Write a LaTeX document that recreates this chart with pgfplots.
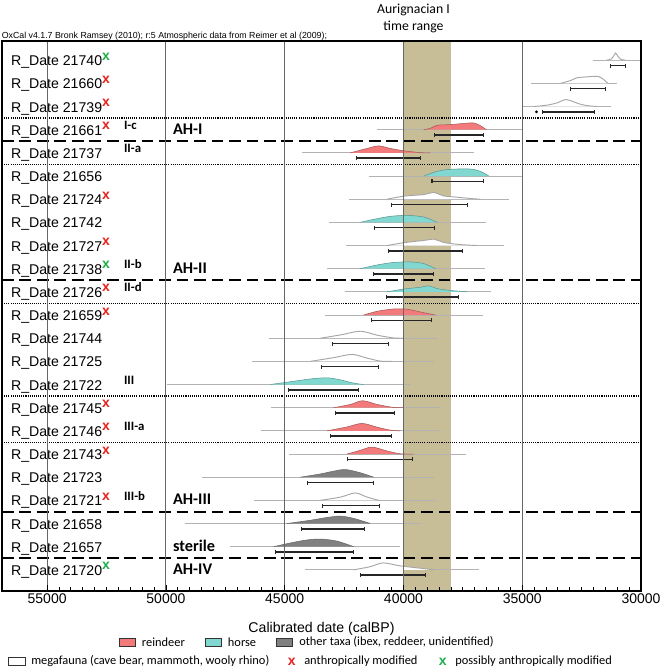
\documentclass[border=0pt]{standalone}
\usepackage{pgfplots}
\pgfplotsset{compat=1.18}
\usepackage{fontspec}
\setmainfont{Liberation Sans}
\newfontfamily\calfont{Carlito}
\usetikzlibrary{arrows.meta}
\definecolor{rein}{RGB}{242,122,122}
\definecolor{horse}{RGB}{128,216,208}
\definecolor{oth}{RGB}{128,128,128}
\definecolor{band}{RGB}{199,190,152}
\definecolor{xred}{RGB}{230,35,30}
\definecolor{xgreen}{RGB}{30,175,75}
\newcommand{\rx}{\raisebox{4.1pt}{\textcolor{xred}{\fontsize{10.5}{10}\selectfont\bfseries x}}}
\newcommand{\gx}{\raisebox{4.1pt}{\textcolor{xgreen}{\fontsize{10.5}{10}\selectfont\bfseries x}}}
\pgfplotsset{
  base/.style={black!30, line width=0.7pt, forget plot},
  rng/.style={black!85, line width=1.15pt, {Bar[width=3pt,line width=0.8pt]}-{Bar[width=3pt,line width=0.8pt]}, forget plot},
  reind/.style={fill=rein, draw=rein!70!black, line width=0.4pt, smooth, tension=0.5, forget plot},
  hors/.style={fill=horse, draw=horse!70!black, line width=0.4pt, smooth, tension=0.5, forget plot},
  othr/.style={fill=oth, draw=oth!80!black, line width=0.4pt, smooth, tension=0.5, forget plot},
  mega/.style={fill=white, draw=black!35, line width=0.7pt, smooth, tension=0.5, forget plot},
  dotsep/.style={black, line width=1.1pt, dash pattern=on 0.8pt off 0.8pt, forget plot},
  dashsep/.style={black, line width=1.5pt, dash pattern=on 8.8pt off 4.3pt, forget plot},
}
\begin{document}
\begin{tikzpicture}
\begin{axis}[
  at={(0,0)}, anchor=south west,
  scale only axis, width=479.25pt, height=412.3pt,
  x dir=reverse, xmin=30000, xmax=56900,
  ymin=0.1, ymax=23.83,
  xtick={30000,35000,40000,45000,50000,55000},
  minor x tick num=9,
  scaled x ticks=false,
  ytick=\empty,
  xtick pos=bottom, tick align=inside,
  major tick length=4pt, minor tick length=3pt,
  tick style={black, line width=0.6pt},
  xmajorgrids, major grid style={black!60, line width=0.75pt},
  axis line style={line width=1.4pt},
  axis on top,
  /pgf/number format/1000 sep={},
  /pgf/number format/assume math mode=true,
  xticklabel style={font=\fontsize{10.5}{12}\selectfont, yshift=1.5pt},
  clip=true,
]
% Aurignacian band
\addplot[fill=band, draw=none, forget plot] coordinates {(40000,0.1) (38000,0.1) (38000,23.83) (40000,23.83)} -- cycle;

% row 1 (21740)
\addplot[base] coordinates {(32010,23) (30000,23)};
\addplot[mega] coordinates {(31450,23) (31250,23.05) (31150,23.18) (31070,23.31) (30980,23.18) (30850,23.04) (30650,23)};
\addplot[rng] coordinates {(31325,22.77) (30640,22.77)};
% row 2 (21660)
\addplot[base] coordinates {(34650,22) (31030,22)};
\addplot[mega] coordinates {(33390,22) (32970,22.12) (32700,22.24) (32410,22.27) (31985,22.30) (31775,22.29) (31565,22.16) (31395,22)};
\addplot[rng] coordinates {(33010,21.77) (31465,21.77)};
% row 3 (21739)
\addplot[base] coordinates {(34960,21) (31255,21)};
\addplot[mega] coordinates {(34510,21) (33950,21.06) (33530,21.16) (33180,21.30) (32900,21.23) (32620,21.12) (32270,21.04) (31845,21)};
\addplot[rng] coordinates {(34160,20.77) (31945,20.77)};
\addplot[only marks, mark=*, mark size=0.8pt, black, forget plot] coordinates {(34400,20.77)};
% row 4 (21661)
\addplot[base] coordinates {(41110,20) (35000,20)};
\addplot[reind] coordinates {(39145,20) (38865,20.06) (38584,20.19) (38022,20.22) (37460,20.27) (37039,20.29) (36759,20.17) (36506,20)};
\addplot[rng] coordinates {(38696,19.77) (36618,19.77)};
% row 5 (21737)
\addplot[base] coordinates {(44270,19) (37040,19)};
\addplot[reind] coordinates {(42234,19) (41532,19.19) (41041,19.30) (40550,19.19) (39988,19.09) (39286,19.01) (38865,19)};
\addplot[rng] coordinates {(41995,18.77) (39272,18.77)};
% row 6 (21656)
\addplot[base] coordinates {(41462,18) (35003,18)};
\addplot[hors] coordinates {(39145,18) (38584,18.20) (38022,18.29) (37180,18.30) (36759,18.20) (36408,18)};
\addplot[rng] coordinates {(38822,17.77) (36604,17.77)};
% row 7 (21724)
\addplot[base] coordinates {(42304,17) (35565,17)};
\addplot[mega] coordinates {(40690,17) (39988,17.13) (39145,17.20) (38724,17.29) (38303,17.14) (37882,17.10) (37180,17.03) (36759,17)};
\addplot[rng] coordinates {(40507,16.77) (37292,16.77)};
% row 8 (21742)
\addplot[base] coordinates {(43147,16) (36534,16)};
\addplot[hors] coordinates {(41813,16) (41251,16.13) (40550,16.26) (39847,16.30) (39145,16.23) (38584,16)};
\addplot[rng] coordinates {(41223,15.77) (38654,15.77)};
% row 9 (21727)
\addplot[base] coordinates {(42403,15) (35748,15)};
\addplot[mega] coordinates {(40690,15) (39988,15.12) (39145,15.22) (38696,15.27) (38303,15.13) (37601,15.04) (36899,15)};
\addplot[rng] coordinates {(40662,14.77) (37489,14.77)};
% row 10 (21738)
\addplot[base] coordinates {(43217,14) (36548,14)};
\addplot[hors] coordinates {(41813,14) (41111,14.16) (40409,14.27) (39707,14.29) (39145,14.22) (38654,14)};
\addplot[rng] coordinates {(41293,13.77) (38710,13.77)};
% row 11 (21726)
\addplot[base] coordinates {(42473,13) (36295,13)};
\addplot[hors] coordinates {(40690,13) (39988,13.12) (39286,13.20) (38935,13.26) (38584,13.14) (38022,13.06) (37320,13)};
\addplot[rng] coordinates {(40746,12.77) (37671,12.77)};
% row 12 (21659)
\addplot[base] coordinates {(43315,12) (36646,12)};
\addplot[reind] coordinates {(41673,12) (41111,12.16) (40409,12.26) (39847,12.25) (39145,12.10) (38654,12)};
\addplot[rng] coordinates {(41378,11.77) (38808,11.77)};
% row 13 (21744)
\addplot[base] coordinates {(45674,11) (38542,11)};
\addplot[mega] coordinates {(43498,11) (42655,11.14) (41813,11.30) (41111,11.13) (40409,11.01) (39988,11)};
\addplot[rng] coordinates {(42992,10.77) (40592,10.77)};
% row 14 (21725)
\addplot[base] coordinates {(46362,10) (38696,10)};
\addplot[mega] coordinates {(43919,10) (42936,10.16) (42164,10.30) (41532,10.14) (40971,10.01) (40500,10)};
\addplot[rng] coordinates {(43484,9.77) (41041,9.77)};
% row 15 (21722)
\addplot[base] coordinates {(49956,9) (39707,9)};
\addplot[hors] coordinates {(45604,9) (44621,9.14) (43919,9.24) (43217,9.29) (42655,9.20) (42094,9.06) (41673,9)};
\addplot[rng] coordinates {(44874,8.77) (41883,8.77)};
% row 16 (21745)
\addplot[base] coordinates {(45562,8) (38444,8)};
\addplot[reind] coordinates {(42936,8) (42234,8.14) (41715,8.30) (41111,8.14) (40409,8.01) (39988,8)};
\addplot[rng] coordinates {(42866,7.77) (40367,7.77)};
% row 17 (21746)
\addplot[base] coordinates {(45983,7) (38472,7)};
\addplot[reind] coordinates {(43217,7) (42374,7.17) (41743,7.32) (41111,7.16) (40550,7.03) (40128,7)};
\addplot[rng] coordinates {(43091,6.77) (40479,6.77)};
% row 18 (21743)
\addplot[base] coordinates {(44803,6) (37376,6)};
\addplot[reind] coordinates {(42374,6) (41813,6.16) (41321,6.30) (40690,6.13) (40128,6.01) (39567,6)};
\addplot[rng] coordinates {(42360,5.77) (39609,5.77)};
% row 19 (21723)
\addplot[base] coordinates {(48468,5) (38724,5)};
\addplot[othr] coordinates {(44340,5) (43498,5.14) (42936,5.26) (42445,5.33) (41813,5.19) (41251,5)};
\addplot[rng] coordinates {(44045,4.77) (41251,4.77)};
% row 20 (21721)
\addplot[base] coordinates {(46278,4) (38654,4)};
\addplot[mega] coordinates {(43498,4) (42655,4.14) (42024,4.32) (41532,4.14) (41041,4)};
\addplot[rng] coordinates {(43414,3.77) (40970,3.77)};
% row 21 (21658)
\addplot[base] coordinates {(49184,3) (39244,3)};
\addplot[othr] coordinates {(44902,3) (43919,3.14) (43217,3.26) (42655,3.32) (42094,3.22) (41391,3)};
\addplot[rng] coordinates {(44326,2.77) (41630,2.77)};
% row 22 (21657)
\addplot[base] coordinates {(47289,2) (40156,2)};
\addplot[othr] coordinates {(45463,2) (44621,2.19) (44059,2.29) (43498,2.33) (42796,2.24) (42094,2)};
\addplot[rng] coordinates {(45393,1.77) (42094,1.77)};
% row 23 (21720)
\addplot[base] coordinates {(44158,1) (36829,1)};
\addplot[mega] coordinates {(42094,1) (41391,1.14) (40858,1.30) (40128,1.17) (39286,1.07) (38724,1)};
\addplot[rng] coordinates {(41813,0.77) (39061,0.77)};

% separators
\addplot[dotsep] coordinates {(56900,20.5) (30000,20.5)};
\addplot[dashsep] coordinates {(56900,19.5) (30000,19.5)};
\addplot[dotsep] coordinates {(56900,18.5) (30000,18.5)};
\addplot[dashsep] coordinates {(56900,13.5) (30000,13.5)};
\addplot[dotsep] coordinates {(56900,12.5) (30000,12.5)};
\addplot[dotsep] coordinates {(56900,8.5) (30000,8.5)};
\addplot[dotsep] coordinates {(56900,6.5) (30000,6.5)};
\addplot[dashsep] coordinates {(56900,3.5) (30000,3.5)};
\addplot[dashsep] coordinates {(56900,1.5) (30000,1.5)};

% row labels
\begin{scope}[every node/.style={anchor=base west, inner sep=0pt, font=\fontsize{10.6}{12}\selectfont}]
\node at (axis cs:56530,22.76) {R\_Date 21740\gx};
\node at (axis cs:56530,21.76) {R\_Date 21660\rx};
\node at (axis cs:56530,20.76) {R\_Date 21739\rx};
\node at (axis cs:56530,19.76) {R\_Date 21661\rx};
\node at (axis cs:56530,18.76) {R\_Date 21737};
\node at (axis cs:56530,17.76) {R\_Date 21656};
\node at (axis cs:56530,16.76) {R\_Date 21724\rx};
\node at (axis cs:56530,15.76) {R\_Date 21742};
\node at (axis cs:56530,14.76) {R\_Date 21727\rx};
\node at (axis cs:56530,13.76) {R\_Date 21738\gx};
\node at (axis cs:56530,12.76) {R\_Date 21726\rx};
\node at (axis cs:56530,11.76) {R\_Date 21659\rx};
\node at (axis cs:56530,10.76) {R\_Date 21744};
\node at (axis cs:56530,9.76) {R\_Date 21725};
\node at (axis cs:56530,8.76) {R\_Date 21722};
\node at (axis cs:56530,7.76) {R\_Date 21745\rx};
\node at (axis cs:56530,6.76) {R\_Date 21746\rx};
\node at (axis cs:56530,5.76) {R\_Date 21743\rx};
\node at (axis cs:56530,4.76) {R\_Date 21723};
\node at (axis cs:56530,3.76) {R\_Date 21721\rx};
\node at (axis cs:56530,2.76) {R\_Date 21658};
\node at (axis cs:56530,1.76) {R\_Date 21657};
\node at (axis cs:56530,0.76) {R\_Date 21720\gx};
\end{scope}
\begin{scope}[every node/.style={anchor=base west, inner sep=0pt, font=\calfont\bfseries\fontsize{9.6}{11}\selectfont}]
\node at (axis cs:51772,20) {I-c};
\node at (axis cs:51772,19) {II-a};
\node at (axis cs:51772,14) {II-b};
\node at (axis cs:51772,13) {II-d};
\node at (axis cs:51772,9) {III};
\node at (axis cs:51772,7) {III-a};
\node at (axis cs:51772,4) {III-b};
\end{scope}
\begin{scope}[every node/.style={anchor=base west, inner sep=0pt, font=\calfont\bfseries\fontsize{12.2}{14}\selectfont}]
\node at (axis cs:49709,19.81) {AH-I};
\node at (axis cs:49709,13.81) {AH-II};
\node at (axis cs:49709,3.81) {AH-III};
\node at (axis cs:49709,1.81) {sterile};
\node at (axis cs:49709,0.81) {AH-IV};
\end{scope}
\end{axis}
\begin{scope}[x=0.75pt, y=0.75pt]
\node[anchor=west, inner sep=0pt, font=\fontsize{6.6}{8}\selectfont] at (-0.5,554.7) {OxCal v4.1.7 Bronk Ramsey (2010); r:5 Atmospheric data from Reimer et al (2009);};
\node[inner sep=0pt, font=\calfont\fontsize{10.3}{12}\selectfont] at (411.5,581.2) {Aurignacian I};
\node[inner sep=0pt, font=\calfont\fontsize{10.3}{12}\selectfont] at (411.5,563.7) {time range};
\node[inner sep=0pt, font=\fontsize{10.6}{12}\selectfont] at (319.5,-38.3) {Calibrated date (calBP)};
% legend
\draw[fill=rein, draw=black!80, line width=0.6pt] (117.5,-55.3) rectangle (133.7,-47.3);
\draw[fill=horse, draw=black!80, line width=0.6pt] (203,-55.3) rectangle (219,-47.3);
\draw[fill=oth, draw=black!80, line width=0.6pt] (274.7,-55.3) rectangle (290.7,-47.3);
\draw[fill=white, draw=black!80, line width=0.6pt] (6.3,-74.8) rectangle (23,-66.8);
\begin{scope}[every node/.style={anchor=west, inner sep=0pt, font=\calfont\fontsize{9.3}{11}\selectfont}]
\node at (139.7,-51.3) {reindeer};
\node at (225.7,-51.3) {horse};
\node at (297,-51.3) {other taxa (ibex, reddeer, unidentified)};
\node at (29,-70.8) {megafauna (cave bear, mammoth, wooly rhino)};
\node at (302,-70.8) {anthropically modified};
\node at (453,-70.8) {possibly anthropically modified};
\end{scope}
\node[inner sep=0pt, text=xred, font=\fontsize{10.5}{10}\selectfont\bfseries] at (289.7,-70.8) {x};
\node[inner sep=0pt, text=xgreen, font=\fontsize{10.5}{10}\selectfont\bfseries] at (440.8,-70.8) {x};
\pgfresetboundingbox
\path (-2,-79.3) rectangle (658,590.7);
\end{scope}
\end{tikzpicture}
\end{document}
